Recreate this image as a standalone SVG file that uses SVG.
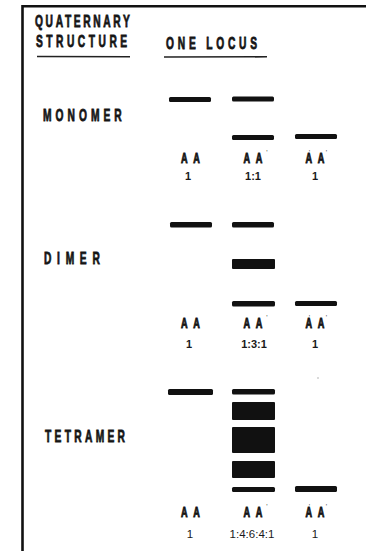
<svg xmlns="http://www.w3.org/2000/svg" width="366" height="551" viewBox="0 0 366 551">
<style>
.h{font-family:"Liberation Sans",Arial,sans-serif;font-weight:bold;font-size:16.5px;fill:#151515;stroke:#151515;stroke-width:0.8}
.g{font-family:"Liberation Sans",Arial,sans-serif;font-weight:bold;font-size:14px;fill:#151515;stroke:#151515;stroke-width:0.9;text-anchor:middle}
.p{font-family:"Liberation Sans",Arial,sans-serif;font-size:7px;fill:#444;text-anchor:middle}
.r{font-family:"Liberation Sans",Arial,sans-serif;font-weight:bold;font-size:11px;fill:#1a1a1a;text-anchor:middle}
.n{font-weight:normal;font-size:11.5px}
.b{fill:#111}
.u{stroke:#222;stroke-width:1.6;fill:none}
</style>
<rect width="366" height="551" fill="#fff"/>
<path d="M22.5,551 V6.2 H366" fill="none" stroke="#111" stroke-width="2.6"/>
<g id="headers">
<text class="h" transform="translate(35,27) scale(0.62,1)" textLength="153" lengthAdjust="spacing">QUATERNARY</text>
<text class="h" transform="translate(36,46.5) scale(0.62,1)" textLength="147" lengthAdjust="spacing">STRUCTURE</text>
<path class="u" d="M37,56.5 L130,56.8"/>
<text class="h" transform="translate(166,49) scale(0.62,1)" textLength="147" lengthAdjust="spacing">ONE LOCUS</text>
<path class="u" d="M164,57 L267,56.8"/>
</g>
<g id="monomer">
<text class="h" transform="translate(43,121) scale(0.62,1)" textLength="127" lengthAdjust="spacing">MONOMER</text>
<rect class="b" x="169" y="97" width="42" height="5" rx="1.5"/>
<rect class="b" x="232" y="96.5" width="42" height="5" rx="1.5"/>
<rect class="b" x="232" y="135" width="42" height="5" rx="1.5"/>
<rect class="b" x="295" y="134" width="42" height="5" rx="1.5"/>
<text class="g" transform="translate(190.5,163) scale(0.65,1)" textLength="29" lengthAdjust="spacing">A A</text>
<text class="g" transform="translate(253,163) scale(0.65,1)" textLength="29" lengthAdjust="spacing">A A</text>
<text class="p" x="267" y="155">'</text>
<text class="g" transform="translate(315,163) scale(0.65,1)" textLength="29" lengthAdjust="spacing">A A</text>
<text class="p" x="309.5" y="155">'</text>
<text class="p" x="326.5" y="155">'</text>
<text class="r" x="188" y="180">1</text>
<text class="r" x="253" y="180">1:1</text>
<text class="r" x="315" y="180">1</text>
</g>
<g id="dimer">
<text class="h" transform="translate(44,264) scale(0.62,1)" textLength="90" lengthAdjust="spacing">DIMER</text>
<rect class="b" x="170" y="222" width="42" height="5.5" rx="1.5"/>
<rect class="b" x="232" y="222" width="42" height="5.5" rx="1.5"/>
<rect class="b" x="232" y="259" width="43" height="10" rx="1"/>
<rect class="b" x="232" y="301" width="43" height="5.5" rx="1.5"/>
<rect class="b" x="295" y="301" width="42" height="5" rx="1.5"/>
<text class="g" transform="translate(190.5,328) scale(0.65,1)" textLength="29" lengthAdjust="spacing">A A</text>
<text class="g" transform="translate(253,328) scale(0.65,1)" textLength="29" lengthAdjust="spacing">A A</text>
<text class="p" x="267" y="320">'</text>
<text class="g" transform="translate(315,328) scale(0.65,1)" textLength="29" lengthAdjust="spacing">A A</text>
<text class="p" x="309.5" y="320">'</text>
<text class="p" x="326.5" y="320">'</text>
<text class="r" x="189" y="347.5">1</text>
<text class="r" x="254" y="347.5">1:3:1</text>
<text class="r" x="315" y="347.5">1</text>
<circle cx="318" cy="378" r="0.7" fill="#999"/>
</g>
<g id="tetramer">
<text class="h" transform="translate(45,442) scale(0.62,1)" textLength="129" lengthAdjust="spacing">TETRAMER</text>
<rect class="b" x="168" y="389" width="45" height="6" rx="1.5"/>
<rect class="b" x="232" y="389" width="43" height="5.5" rx="1.5"/>
<rect class="b" x="232" y="402" width="43" height="18" rx="1"/>
<rect class="b" x="232" y="427" width="43" height="26" rx="1"/>
<rect class="b" x="232" y="461" width="43" height="17" rx="1"/>
<rect class="b" x="232" y="487" width="43" height="5" rx="1.5"/>
<rect class="b" x="295" y="486" width="42" height="6" rx="1.5"/>
<text class="g" transform="translate(190.5,517) scale(0.65,1)" textLength="29" lengthAdjust="spacing">A A</text>
<text class="g" transform="translate(253,517) scale(0.65,1)" textLength="29" lengthAdjust="spacing">A A</text>
<text class="p" x="267" y="509">'</text>
<text class="g" transform="translate(315,517) scale(0.65,1)" textLength="29" lengthAdjust="spacing">A A</text>
<text class="p" x="309.5" y="509">'</text>
<text class="p" x="326.5" y="509">'</text>
<text class="r n" x="190" y="538">1</text>
<text class="r n" x="252" y="538">1:4:6:4:1</text>
<text class="r n" x="315" y="538">1</text>
</g>
</svg>
